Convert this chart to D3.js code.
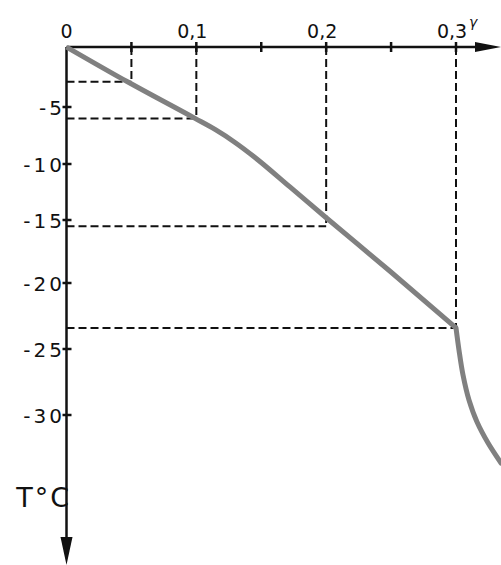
<!DOCTYPE html>
<html>
<head>
<meta charset="utf-8">
<script src="https://cdn.jsdelivr.net/npm/d3@7"></script>
<style>
  body { margin: 0; background: #fff; }
  svg text { font-family: "DejaVu Sans", "Liberation Sans", sans-serif; fill: #111; }
</style>
</head>
<body>
<div id="chart"></div>
<script>
// curve (gamma, T in deg C)
const gammaUpper = [0, 0.047, 0.099, 0.1144, 0.1298, 0.1452, 0.1721, 0.2, 0.2492, 0.3];
const tempUpper  = [0, -2.9, -6.0, -6.97, -8.11, -9.43, -12.05, -14.8, -19.07, -23.4];
const gammaLower = [0.3, 0.3023, 0.3054, 0.31, 0.3162, 0.3247, 0.3347];
const tempLower  = [-23.4, -25.08, -26.97, -28.86, -30.53, -32.12, -33.64];

// dashed guide points
const guideGamma = [0.05, 0.1, 0.2, 0.3];
const guideTemp  = [-2.9, -6.0, -15.5, -23.4];

const xTicks = [0.05, 0.1, 0.15, 0.2, 0.25, 0.3];
const xLabels = [0, 0.1, 0.2, 0.3];
const yTicks = [-5, -10, -15, -20, -25, -30];

const width = 501, height = 565;

const svg = d3.select("#chart").append("svg")
    .attr("width", width)
    .attr("height", height);

// scales (the scan is a bit stretched, so the T axis is piecewise)
const x = d3.scaleLinear().domain([0, 0.3]).range([66.5, 456]);
const y = d3.scaleLinear()
    .domain([0, -5, -10, -15, -20, -25, -30])
    .range([47, 107, 164, 220, 283, 349, 415]);

// dashed guides
const guides = svg.append("g")
    .attr("stroke", "#111")
    .attr("stroke-width", 2)
    .attr("stroke-dasharray", "8,4");
guideGamma.forEach((g, i) => {
    guides.append("line")
        .attr("x1", x(g)).attr("x2", x(g))
        .attr("y1", y(0)).attr("y2", y(guideTemp[i]));
    guides.append("line")
        .attr("x1", x(0)).attr("x2", x(g))
        .attr("y1", y(guideTemp[i])).attr("y2", y(guideTemp[i]));
});

// axes
const axes = svg.append("g").attr("stroke", "#111").attr("stroke-width", 2.5);
axes.append("line")
    .attr("x1", x(0)).attr("x2", 482)
    .attr("y1", y(0)).attr("y2", y(0));
axes.append("line")
    .attr("x1", x(0)).attr("x2", x(0))
    .attr("y1", y(0)).attr("y2", 545);

axes.selectAll(".xtick")
    .data(xTicks)
    .enter().append("line")
    .attr("class", "xtick")
    .attr("x1", d => x(d)).attr("x2", d => x(d))
    .attr("y1", y(0) - 5).attr("y2", y(0) + 5);

axes.selectAll(".ytick")
    .data(yTicks)
    .enter().append("line")
    .attr("class", "ytick")
    .attr("x1", x(0) - 4).attr("x2", x(0) + 5)
    .attr("y1", d => y(d)).attr("y2", d => y(d));

// arrow heads
svg.append("path")
    .attr("d", `M${width},${y(0)} L${width - 26},${y(0) - 5} L${width - 26},${y(0) + 5} Z`)
    .attr("fill", "#111");
svg.append("path")
    .attr("d", `M${x(0)},${height} L${x(0) - 6},${height - 28} L${x(0) + 6},${height - 28} Z`)
    .attr("fill", "#111");

// tick labels
const fmt = d => d === 0 ? "0" : d3.format(".1f")(d).replace(".", ",");
svg.selectAll(".xlabel")
    .data(xLabels)
    .enter().append("text")
    .attr("class", "xlabel")
    .attr("x", d => x(d) - (d === 0 ? 0 : 4))
    .attr("y", 38)
    .attr("text-anchor", "middle")
    .style("font-size", "19px")
    .text(fmt);

svg.append("text")
    .attr("x", 469).attr("y", 27)
    .style("font-size", "14px")
    .style("font-style", "italic")
    .text("γ");

svg.selectAll(".ylabel")
    .data(yTicks)
    .enter().append("text")
    .attr("class", "ylabel")
    .attr("x", 65)
    .attr("y", d => y(d) + 1)
    .attr("dy", "0.36em")
    .attr("text-anchor", "end")
    .style("font-size", "20px")
    .style("letter-spacing", "3px")
    .text(d => "-" + Math.abs(d));

svg.append("text")
    .attr("x", 71).attr("y", 507)
    .attr("text-anchor", "end")
    .style("font-size", "27px")
    .style("letter-spacing", "2px")
    .text("T°C");

// the curve
const upperLine = d3.line()
    .x(d => x(d[0]))
    .y(d => y(d[1]))
    .curve(d3.curveMonotoneX);

const lowerLine = d3.line()
    .x(d => x(d[0]))
    .y(d => y(d[1]))
    .curve(d3.curveMonotoneY);

svg.append("path")
    .datum(d3.zip(gammaUpper, tempUpper))
    .attr("d", upperLine)
    .attr("fill", "none")
    .attr("stroke", "#808080")
    .attr("stroke-width", 5)
    .attr("stroke-linejoin", "round");

svg.append("path")
    .datum(d3.zip(gammaLower, tempLower))
    .attr("d", lowerLine)
    .attr("fill", "none")
    .attr("stroke", "#808080")
    .attr("stroke-width", 5)
    .attr("stroke-linecap", "round");
</script>
</body>
</html>
